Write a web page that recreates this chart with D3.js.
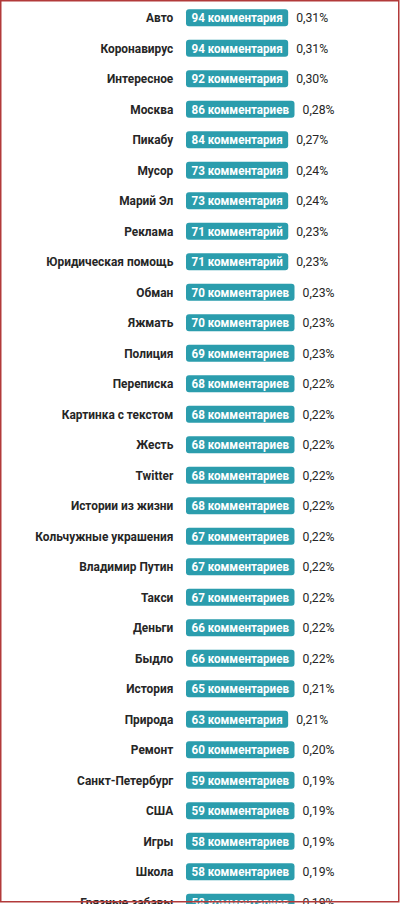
<!DOCTYPE html>
<html><head><meta charset="utf-8">
<script src="https://cdn.jsdelivr.net/npm/d3@7"></script>
<style>
html,body{margin:0;padding:0;background:#fff;overflow:hidden;}
svg{display:block;}
</style></head>
<body>
<script>
const categories = ["Авто","Коронавирус","Интересное","Москва","Пикабу","Мусор","Марий Эл","Реклама","Юридическая помощь","Обман","Яжмать","Полиция","Переписка","Картинка с текстом","Жесть","Twitter","Истории из жизни","Кольчужные украшения","Владимир Путин","Такси","Деньги","Быдло","История","Природа","Ремонт","Санкт-Петербург","США","Игры","Школа","Грязные забавы"];
const counts = [94,94,92,86,84,73,73,71,71,70,70,69,68,68,68,68,68,67,67,67,66,66,65,63,60,59,59,58,58,58];
const percents = ["0,31%","0,31%","0,30%","0,28%","0,27%","0,24%","0,24%","0,23%","0,23%","0,23%","0,23%","0,23%","0,22%","0,22%","0,22%","0,22%","0,22%","0,22%","0,22%","0,22%","0,22%","0,22%","0,21%","0,21%","0,20%","0,19%","0,19%","0,19%","0,19%","0,19%"];

function plural(n){
  const m10=n%10, m100=n%100;
  if(m10===1 && m100!==11) return "комментарий";
  if(m10>=2 && m10<=4 && (m100<12 || m100>14)) return "комментария";
  return "комментариев";
}

const W=400,H=904;
const svg=d3.select("body").append("svg").attr("width",W).attr("height",H);
svg.append("rect").attr("width",W).attr("height",H).attr("fill","#fff");

const y=d3.scaleBand().domain(categories).range([2.5,2.5+30.5*categories.length]).paddingInner(0);
const labelX=173.3, badgeX=186, badgeH=17, padX=5.5, gap=8;
const font="Roboto, 'Noto Sans', sans-serif";
const fs=13;

function measure(txt, weight){
  const t=svg.append("text").attr("font-family",font).attr("font-weight",weight)
    .attr("font-size",fs).text(txt);
  const w=t.node().getComputedTextLength(); t.remove(); return w;
}
const kLabel=138/measure("Кольчужные украшения","bold");
const kBadge=97.5/measure("67 комментариев","bold");
const kPct=32/measure("0,22%","normal");

const rows=svg.selectAll("g.row").data(categories).join("g").attr("class","row")
  .attr("transform",d=>`translate(0,${y(d)+y.bandwidth()/2})`);

rows.each(function(d,i){
  const g=d3.select(this);
  const lw=measure(d,"bold")*kLabel;
  g.append("text").attr("x",labelX).attr("y",0).attr("dy","0.36em")
    .attr("text-anchor","end").attr("font-family",font).attr("font-weight","bold")
    .attr("font-size",fs).attr("fill","#262626")
    .attr("textLength",lw).attr("lengthAdjust","spacingAndGlyphs").text(d);

  const bt=counts[i]+" "+plural(counts[i]);
  const tw=measure(bt,"bold")*kBadge;
  const w=tw+2*padX;
  g.append("rect").attr("x",badgeX).attr("y",-badgeH/2).attr("height",badgeH)
    .attr("width",w).attr("rx",3).attr("fill","#2b9dad");
  g.append("text").attr("x",badgeX+padX).attr("y",0).attr("dy","0.36em")
    .attr("font-family",font).attr("font-weight","bold").attr("font-size",fs)
    .attr("fill","#fff").attr("textLength",tw).attr("lengthAdjust","spacingAndGlyphs").text(bt);

  const pw=measure(percents[i],"normal")*kPct;
  g.append("text").attr("x",badgeX+w+gap).attr("y",0).attr("dy","0.36em")
    .attr("font-family",font).attr("font-size",fs).attr("fill","#262626")
    .attr("textLength",pw).attr("lengthAdjust","spacingAndGlyphs").text(percents[i]);
});

svg.append("rect").attr("x",0.75).attr("y",0.75).attr("width",W-2).attr("height",H-3)
  .attr("fill","none").attr("stroke","#b23a3a").attr("stroke-width",1.5);
</script>
</body></html>
